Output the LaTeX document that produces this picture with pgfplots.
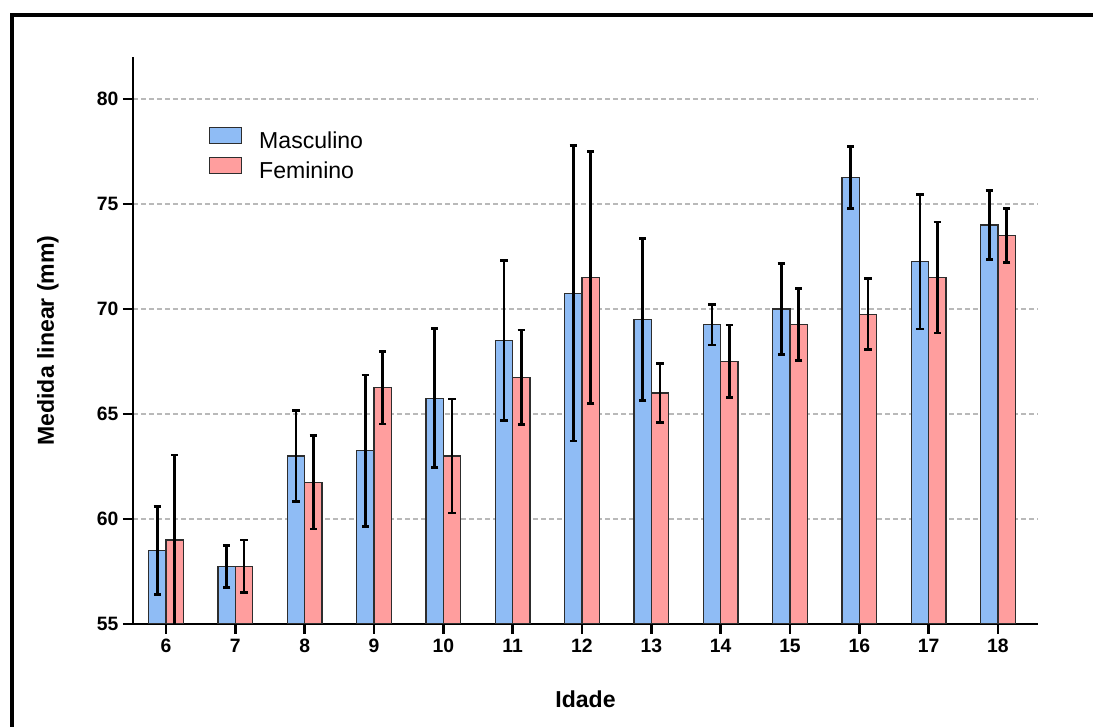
\documentclass[border=0pt]{standalone}
\usepackage{fontspec}
\setmainfont{Liberation Sans}
\usepackage{pgfplots}
\usepackage{pgfplotstable}
\pgfplotsset{compat=1.18}
\definecolor{mblue}{RGB}{143,188,245}
\definecolor{fpink}{RGB}{255,158,158}
\definecolor{bardraw}{RGB}{45,45,45}
\definecolor{gridgray}{RGB}{185,185,185}
\pgfplotstableread{
x  m     me    f     fe
6  58.5  2.10  59.0  4.05
7  57.75 1.00  57.75 1.25
8  63.0  2.17  61.75 2.23
9  63.25 3.60  66.25 1.72
10 65.75 3.31  63.0  2.71
11 68.5  3.80  66.75 2.25
12 70.75 7.03  71.5  6.00
13 69.5  3.87  66.0  1.42
14 69.25 0.97  67.5  1.73
15 70.0  2.17  69.25 1.71
16 76.25 1.48  69.75 1.69
17 72.25 3.21  71.5  2.65
18 74.0  1.63  73.5  1.29
}\data
\pgfplotsset{
  errstyle/.style={draw=none, mark=none, forget plot,
    error bars/.cd, y dir=both, y explicit, error mark=|,
    error bar style={line width=2pt, draw=black, solid},
    error mark options={draw=black, line width=2pt, mark size=2.7pt, solid}},
}
\begin{document}
\begin{tikzpicture}
\useasboundingbox (0pt,0pt) rectangle (819.75pt,545.25pt);
\draw[line width=3pt, line cap=rect] (8.625pt,-2pt) -- (8.625pt,534pt) -- (822pt,534pt);
\begin{axis}[
  at={(99.75pt,77.25pt)}, anchor=south west,
  scale only axis, width=678.75pt, height=425.25pt,
  xmin=5.524, xmax=18.577, ymin=55, ymax=82,
  clip mode=individual,
  axis x line*=bottom, axis y line*=left,
  axis line style={-, line width=2pt, black},
  xtick={6,...,18}, ytick={55,60,...,80},
  tick align=outside, major tick length=7.5pt,
  xtick style={draw=black, line width=2pt},
  ytick style={draw=black, line width=2pt},
  ymajorgrids, grid style={gridgray, line width=0.8pt, dash pattern=on 3.5pt off 2.5pt},
  /pgf/number format/assume math mode=true,
  ticklabel style={font=\fontsize{14.5}{16}\selectfont\bfseries},
  xlabel={Idade}, ylabel={Medida linear (mm)},
  label style={font=\fontsize{17.3}{20}\selectfont\bfseries},
  xlabel style={at={(axis description cs:0.5,0)}, anchor=base, yshift=-63pt},
  ylabel style={at={(axis description cs:0,0.5)}, anchor=center, yshift=63.75pt, xshift=0pt},
  legend style={draw=none, fill=none, at={(axis description cs:0.084,0.8765)}, anchor=north west,
    inner sep=0pt, outer sep=0pt, row sep=3.25pt, column sep=12.75pt,
    font=\fontsize{17.3}{20}\selectfont,
    nodes={inner sep=0pt, text height=12.5pt, text depth=3.5pt}},
  legend cell align=left,
]
\addplot[ybar, bar width=0.25, bar shift=0, fill=mblue, draw=bardraw, line width=0.9pt,
  legend image code/.code={\draw[fill=mblue,draw=bardraw,line width=0.9pt] (0pt,-1pt) rectangle (24pt,11pt);}]
  table[x expr=\thisrow{x}-0.125, y=m]{\data};
\addlegendentry{Masculino}
\addplot[ybar, bar width=0.25, bar shift=0, fill=fpink, draw=bardraw, line width=0.9pt,
  legend image code/.code={\draw[fill=fpink,draw=bardraw,line width=0.9pt] (0pt,-1pt) rectangle (24pt,11pt);}]
  table[x expr=\thisrow{x}+0.125, y=f]{\data};
\addlegendentry{Feminino}
\addplot[errstyle] table[x expr=\thisrow{x}-0.125, y=m, y error=me]{\data};
\addplot[errstyle] table[x expr=\thisrow{x}+0.125, y=f, y error=fe]{\data};
\pgfplotsinvokeforeach{6,...,18}{\draw[line width=2pt, black] (axis cs:#1,55) -- ++(0pt,-7.5pt);}
\pgfplotsinvokeforeach{55,60,...,80}{\draw[line width=2pt, black] (axis cs:5.524,#1) -- ++(-7.5pt,0pt);}
\end{axis}
\end{tikzpicture}
\end{document}
